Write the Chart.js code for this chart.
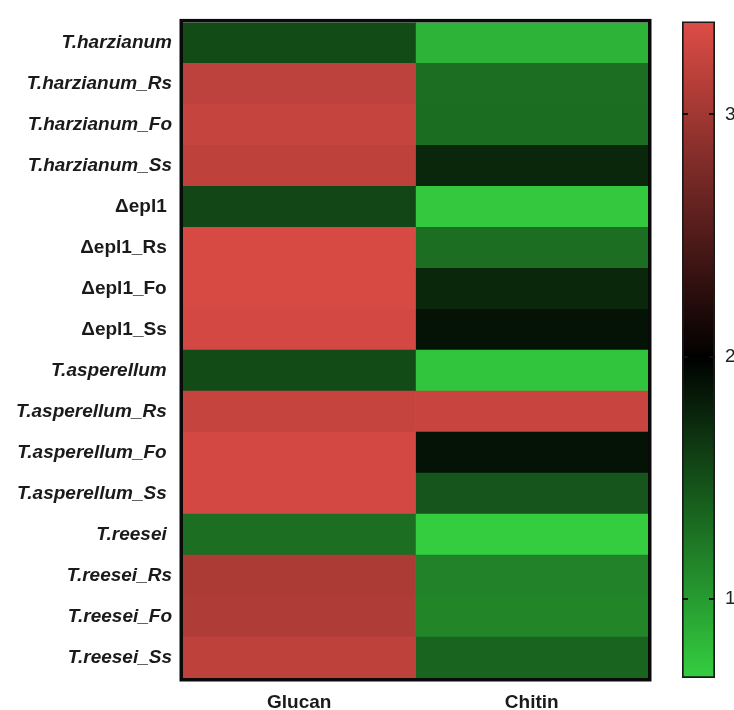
<!DOCTYPE html>
<html>
<head>
<meta charset="utf-8">
<script src="https://cdn.jsdelivr.net/npm/chart.js@4"></script>
<style>
  html, body { margin: 0; padding: 0; background: #fff; overflow: hidden; }
  #wrap { position: relative; width: 734px; height: 710px; overflow: hidden; }
  #heat { position: absolute; left: 0; top: 0; }
  #bar { position: absolute; left: 660px; top: 0; }
</style>
</head>
<body>
<div id="wrap">
  <canvas id="heat" width="660" height="710"></canvas>
  <canvas id="bar" width="120" height="710"></canvas>
</div>
<script>
// Strains / treatments (rows, top to bottom)
const strains = [
  'T.harzianum', 'T.harzianum_Rs', 'T.harzianum_Fo', 'T.harzianum_Ss',
  'Δepl1 ', 'Δepl1_Rs ', 'Δepl1_Fo ', 'Δepl1_Ss ',
  'T.asperellum ', 'T.asperellum_Rs ', 'T.asperellum_Fo ', 'T.asperellum_Ss ',
  'T.reesei ', 'T.reesei_Rs', 'T.reesei_Fo', 'T.reesei_Ss'
];
// Substrates (columns)
const substrates = ['Glucan', 'Chitin'];

// Values per substrate, same order as strains
const glucan = [1.52, 3.18, 3.23, 3.19, 1.55, 3.34, 3.34, 3.32,
                1.52, 3.23, 3.32, 3.32, 1.29, 3.07, 3.09, 3.19];
const chitin = [0.84, 1.29, 1.30, 1.75, 0.71, 1.29, 1.75, 1.88,
                0.74, 3.24, 1.88, 1.45, 0.68, 1.16, 1.14, 1.35];

// Colour scale range and ticks
const scaleMin = 0.673, scaleMid = 2, scaleMax = 3.384;
const scaleTicks = [1, 2, 3];

const GREEN = [52, 206, 64], RED = [222, 76, 70];
function colorFor(v) {
  let f, c;
  if (v <= scaleMid) { f = (scaleMid - v) / (scaleMid - scaleMin); c = GREEN; }
  else { f = (v - scaleMid) / (scaleMax - scaleMid); c = RED; }
  f = Math.max(0, Math.min(1, f));
  return `rgb(${Math.round(c[0]*f)},${Math.round(c[1]*f)},${Math.round(c[2]*f)})`;
}

const FONT = "'Liberation Sans', Arial, Helvetica, sans-serif";
const columns = [glucan, chitin];

// Thick frame around the plotting area
const framePlugin = {
  id: 'frame',
  afterDatasetsDraw(chart) {
    const a = chart.chartArea, ctx = chart.ctx;
    ctx.save();
    ctx.strokeStyle = '#0a0a0a';
    ctx.lineWidth = 3.5;
    ctx.strokeRect(a.left - 1.75, a.top - 1.75, a.right - a.left + 3.5, a.bottom - a.top + 3.5);
    ctx.restore();
  }
};

new Chart(document.getElementById('heat'), {
  type: 'bar',
  data: {
    labels: strains,
    datasets: columns.map((vals, j) => ({
      label: substrates[j],
      data: vals.map(() => [j, j + 1]),
      backgroundColor: vals.map(colorFor),
      borderWidth: 0,
      grouped: false,
      barPercentage: 1,
      categoryPercentage: 1
    }))
  },
  options: {
    indexAxis: 'y',
    responsive: false,
    animation: false,
    layout: { padding: { top: 16.5, right: 12, left: 0, bottom: 0 } },
    plugins: { legend: { display: false }, tooltip: { enabled: false } },
    scales: {
      x: {
        type: 'linear', min: 0, max: substrates.length,
        grid: { display: false, drawTicks: false },
        border: { display: false },
        afterBuildTicks: (s) => { s.ticks = substrates.map((_, i) => ({ value: i + 0.5 })); },
        afterFit: (s) => { s.height = 32; },
        ticks: {
          padding: 13,
          color: '#1a1a1a',
          font: { family: FONT, size: 19, weight: 'bold' },
          callback: (v) => substrates[Math.floor(v)]
        }
      },
      y: {
        type: 'category',
        grid: { display: false, drawTicks: false },
        border: { display: false },
        afterFit: (s) => { s.width = 183; },
        ticks: {
          padding: 11,
          color: '#1a1a1a',
          font: (c) => ({
            family: FONT, size: 19, weight: 'bold',
            style: strains[c.index] && strains[c.index].startsWith('Δ') ? 'normal' : 'italic'
          })
        }
      }
    }
  },
  plugins: [framePlugin]
});

// Inward tick marks on both sides of the colour bar
const barTicksPlugin = {
  id: 'barTicks',
  afterDatasetsDraw(chart) {
    const a = chart.chartArea, ctx = chart.ctx, y = chart.scales.y;
    ctx.save();
    ctx.strokeStyle = '#111';
    ctx.lineWidth = 2;
    scaleTicks.forEach(v => {
      const py = Math.round(y.getPixelForValue(v));
      ctx.beginPath();
      ctx.moveTo(a.left, py); ctx.lineTo(a.left + 6, py);
      ctx.moveTo(a.right - 6, py); ctx.lineTo(a.right, py);
      ctx.stroke();
    });
    ctx.restore();
  }
};

new Chart(document.getElementById('bar'), {
  type: 'bar',
  data: {
    labels: ['scale'],
    datasets: [{
      data: [[scaleMin, scaleMax]],
      backgroundColor: (c) => {
        const ch = c.chart, a = ch.chartArea, ys = ch.scales.y;
        if (!a || !ys) return '#000';
        const y0 = ys.getPixelForValue(scaleMin), y1 = ys.getPixelForValue(scaleMax);
        const g = ch.ctx.createLinearGradient(0, y0, 0, y1);
        const steps = 20;
        for (let i = 0; i <= steps; i++) {
          const v = scaleMin + (scaleMax - scaleMin) * i / steps;
          g.addColorStop(i / steps, colorFor(v));
        }
        const pm = (scaleMid - scaleMin) / (scaleMax - scaleMin);
        g.addColorStop(pm, 'rgb(0,0,0)');
        return g;
      },
      borderColor: '#1a1a1a',
      borderWidth: 2,
      borderSkipped: false,
      barPercentage: 1,
      categoryPercentage: 1
    }]
  },
  options: {
    responsive: false,
    animation: false,
    layout: { padding: { top: 14, bottom: 32, left: 22, right: 0 } },
    plugins: { legend: { display: false }, tooltip: { enabled: false } },
    scales: {
      x: { display: false },
      y: {
        type: 'linear', position: 'right', min: scaleMin, max: scaleMax,
        grid: { display: false, drawTicks: false },
        border: { display: false },
        afterBuildTicks: (s) => { s.ticks = scaleTicks.map(v => ({ value: v })); },
        afterFit: (s) => { s.width = 65; },
        ticks: {
          padding: 10,
          color: '#222',
          font: { family: FONT, size: 19 },
          callback: (v) => String(v)
        }
      }
    }
  },
  plugins: [barTicksPlugin]
});
</script>
</body>
</html>
